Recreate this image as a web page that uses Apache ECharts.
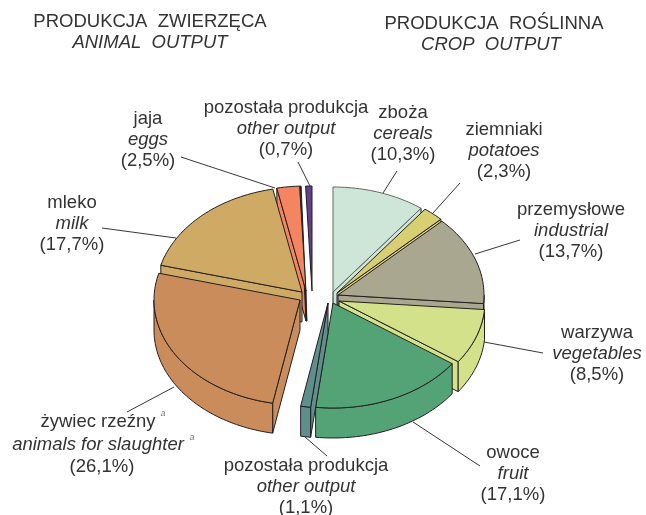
<!DOCTYPE html>
<html>
<head>
<meta charset="utf-8">
<style>
html, body { margin: 0; padding: 0; background: #fff; }
#chart { width: 646px; height: 515px; }
</style>
<script src="https://cdn.jsdelivr.net/npm/echarts@6/dist/echarts.min.js"></script>
</head>
<body>
<div id="chart"></div>
<script>
// shares in %, clockwise from 12 o'clock
var categories = ['zboża', 'ziemniaki', 'przemysłowe', 'warzywa', 'owoce', 'pozostała produkcja', 'żywiec rzeźny', 'mleko', 'jaja', 'pozostała produkcja'];
var categoriesEn = ['cereals', 'potatoes', 'industrial', 'vegetables', 'fruit', 'other output', 'animals for slaughter', 'milk', 'eggs', 'other output'];
var shares = [10.3, 2.3, 13.7, 8.5, 17.1, 1.1, 26.1, 17.7, 2.5, 0.7];
var colors = ['#cde6d7', '#d8ce72', '#a9a78f', '#d3e28a', '#54a376', '#5f8f8c', '#cb8c5c', '#cfaa65', '#f58560', '#653f8f'];

// top-face apex of each exploded slice
var apexX = [333, 337, 338, 339, 333, 328, 300, 302, 306, 312];
var apexY = [292, 293, 295, 301, 303, 303, 300, 292, 291, 291];
var rx = 146, ry = 105, depth = 30;

// label centre x and the y of its three rows
var labelX = [403, 504, 571, 597, 513, 306, 98, 72, 148, 286];
var labelY = [113, 130, 210, 333, 453, 466, 422, 203, 119, 108];
var rowGap = 21;

// leader lines: x1, y1, x2, y2
var leaders = [
    [397, 171, 383, 193], [460, 183, 433, 213], [520, 240, 475, 254], [543, 353, 484, 342],
    [480, 466, 413, 422], [327, 456, 305, 437], [127, 412, 174, 387], [102, 228, 176, 238],
    [181, 157, 275, 188], [298, 162, 310, 186]
];

var titles = [
    { text: 'PRODUKCJA  ZWIERZĘCA', x: 150, y: 22, style: 'normal' },
    { text: 'ANIMAL  OUTPUT', x: 150, y: 43, style: 'italic' },
    { text: 'PRODUKCJA  ROŚLINNA', x: 494, y: 24, style: 'normal' },
    { text: 'CROP  OUTPUT', x: 491, y: 45, style: 'italic' }
];

var lineColor = '#231f20';
var textColor = '#333333';
var fontName = '"Liberation Sans", Arial, sans-serif';
var fontSize = 18.5;

var startDeg = [];
var total = 0;
shares.forEach(function (v) { startDeg.push(total * 3.6); total += v; });

function arcPoints(cx, cy, from, to) {
    var pts = [];
    var n = Math.max(2, Math.ceil((to - from) / 1.5));
    for (var i = 0; i <= n; i++) {
        var a = (from + (to - from) * i / n) * Math.PI / 180;
        pts.push([cx + rx * Math.sin(a), cy - ry * Math.cos(a)]);
    }
    return pts;
}

function poly(points, color, z2, stroke) {
    return {
        type: 'polygon',
        z2: z2,
        shape: { points: points },
        style: { fill: color, stroke: stroke || lineColor, lineWidth: 1, lineJoin: 'round' }
    };
}

function textEl(str, x, y, size, italic, color, z2) {
    return {
        type: 'text',
        z2: z2,
        style: {
            text: str, x: x, y: y, align: 'center', verticalAlign: 'middle',
            font: (italic ? 'italic ' : '') + size + 'px ' + fontName, fill: color
        }
    };
}

function renderSlice(params, api) {
    var i = params.dataIndex;
    var value = api.value(0);
    var from = startDeg[i];
    var to = from + value * 3.6;
    var cx = apexX[i], cy = apexY[i];
    var color = colors[i];
    var mid = (from + to) / 2;
    // back slices first
    var order = 100 + Math.round(cy - ry * Math.cos(mid * Math.PI / 180) * 0.9);
    var kids = [];

    // radial walls, only where they face the viewer
    var startEdge = arcPoints(cx, cy, from, from)[0];
    var endEdge = arcPoints(cx, cy, to, to)[0];
    if (i !== 9 && Math.cos((from - 90) * Math.PI / 180) < 0) {
        kids.push(poly([[cx, cy], startEdge, [startEdge[0], startEdge[1] + depth], [cx, cy + depth]], color, order));
    }
    if (Math.cos((to + 90) * Math.PI / 180) < 0) {
        kids.push(poly([[cx, cy], endEdge, [endEdge[0], endEdge[1] + depth], [cx, cy + depth]], color, order));
    }
    // eggs: the hidden wall shows only as a dark sliver
    if (i === 8) {
        kids.push(poly([endEdge, [endEdge[0] + 1.5, endEdge[1]], [cx + 1, cy + depth], [cx, cy + depth]], lineColor, order));
    }
    // outer wall, front half of the rim
    var wallFrom = Math.max(from, 90), wallTo = Math.min(to, 270);
    if (wallTo > wallFrom) {
        var rim = arcPoints(cx, cy, wallFrom, wallTo);
        var low = rim.map(function (p) { return [p[0], p[1] + depth]; }).reverse();
        kids.push(poly(rim.concat(low), color, order + 1));
    }
    // top face
    kids.push(poly([[cx, cy]].concat(arcPoints(cx, cy, from, to)), color, order + 2, i === 0 ? '#5f6a64' : lineColor));

    // leader under the pie
    var l = leaders[i];
    kids.push({
        type: 'line', z2: 1,
        shape: { x1: l[0], y1: l[1], x2: l[2], y2: l[3] },
        style: { stroke: lineColor, lineWidth: 0.9 }
    });

    // label rows
    var lx = labelX[i], ly = labelY[i];
    kids.push(textEl(categories[i], lx, ly, fontSize, false, textColor, 900));
    kids.push(textEl(categoriesEn[i], lx, ly + rowGap + (i === 6 ? 2 : 0), fontSize, true, textColor, 900));
    kids.push(textEl('(' + value.toFixed(1).replace('.', ',') + '%)', lx + (i === 6 ? 4 : 0), ly + rowGap * 2 + (i === 6 ? 3 : 0), fontSize, false, textColor, 900));
    if (i === 6) {
        kids.push(textEl('a', 163, 413, 9, true, '#777777', 900));
        kids.push(textEl('a', 192, 437, 9, true, '#777777', 900));
    }
    return { type: 'group', children: kids };
}

var chart = echarts.init(document.getElementById('chart'));
chart.setOption({
    animation: false,
    backgroundColor: '#ffffff',
    graphic: titles.map(function (t) {
        return {
            type: 'text',
            style: {
                text: t.text, x: t.x, y: t.y, align: 'center', verticalAlign: 'middle',
                font: t.style + ' ' + fontSize + 'px ' + fontName, fill: textColor
            }
        };
    }),
    series: [{
        type: 'custom',
        coordinateSystem: 'none',
        renderItem: renderSlice,
        data: shares
    }]
});
</script>
</body>
</html>
